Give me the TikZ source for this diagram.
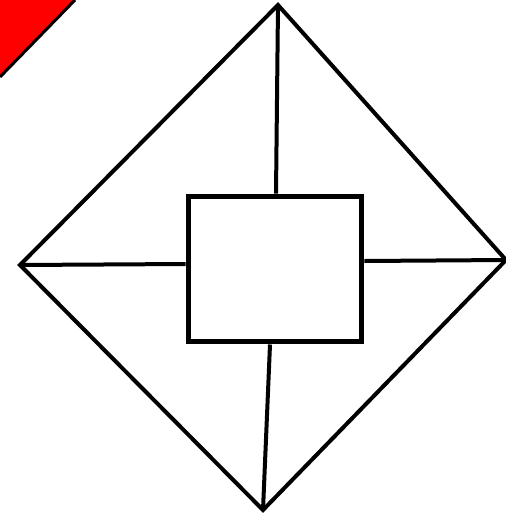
\documentclass[tikz,border=0pt]{standalone}
\usetikzlibrary{positioning}

\begin{document}
\begin{tikzpicture}[
  x=0.02cm, y=-0.02cm,
  edge/.style={line width=0.08cm, line join=miter},
  box/.style={draw, line width=0.1cm, minimum width=3.48cm, minimum height=2.92cm, inner sep=0pt}
]
  \useasboundingbox (0,0) rectangle (506,514);
  % corner flag
  \fill[red] (0,0) -- (75,0) -- (0,77) -- cycle;
  \draw[line width=0.06cm] (75,0) -- (0,77);
  % outer square
  \coordinate (top) at (278,5);
  \coordinate (left) at (20,265);
  \coordinate (right) at (506,260);
  \coordinate (bottom) at (263,510);
  \draw[edge] (top) -- (right) -- (bottom) -- (left) -- cycle;
  % inner box
  \node[box] (center) at (275,269) {};
  \draw[edge] (top) -- ([xshift=0.02cm]center.north);
  \draw[edge] (left) -- ([yshift=0.1cm]center.west);
  \draw[edge] (right) -- ([yshift=0.16cm]center.east);
  \draw[edge] (bottom) -- ([xshift=-0.1cm]center.south);
\end{tikzpicture}
\end{document}
